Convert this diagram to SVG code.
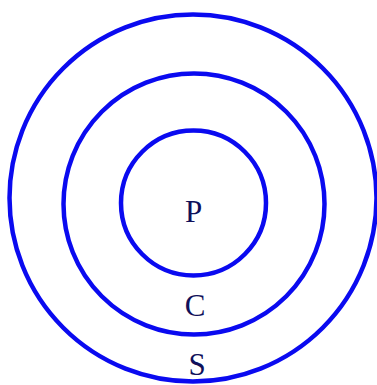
<svg xmlns="http://www.w3.org/2000/svg" width="377" height="385" viewBox="0 0 377 385">
<style>
.ring{fill:none;stroke:#0a0af0;stroke-width:4.5}
.lbl{font-family:"Liberation Serif","Times New Roman",serif;font-size:31px;fill:#10105a;text-anchor:middle}
</style>
<rect width="377" height="385" fill="#fff"/>
<g id="outer-S"><circle class="ring" cx="193" cy="198" r="183.5"/><text class="lbl" x="197" y="375">S</text></g>
<g id="middle-C"><circle class="ring" cx="194" cy="204" r="130.5"/><text class="lbl" x="195" y="316">C</text></g>
<g id="inner-P"><circle class="ring" cx="193.5" cy="203" r="72.5"/><text class="lbl" x="193.5" y="222">P</text></g>
<g id="connectors"></g>
</svg>
